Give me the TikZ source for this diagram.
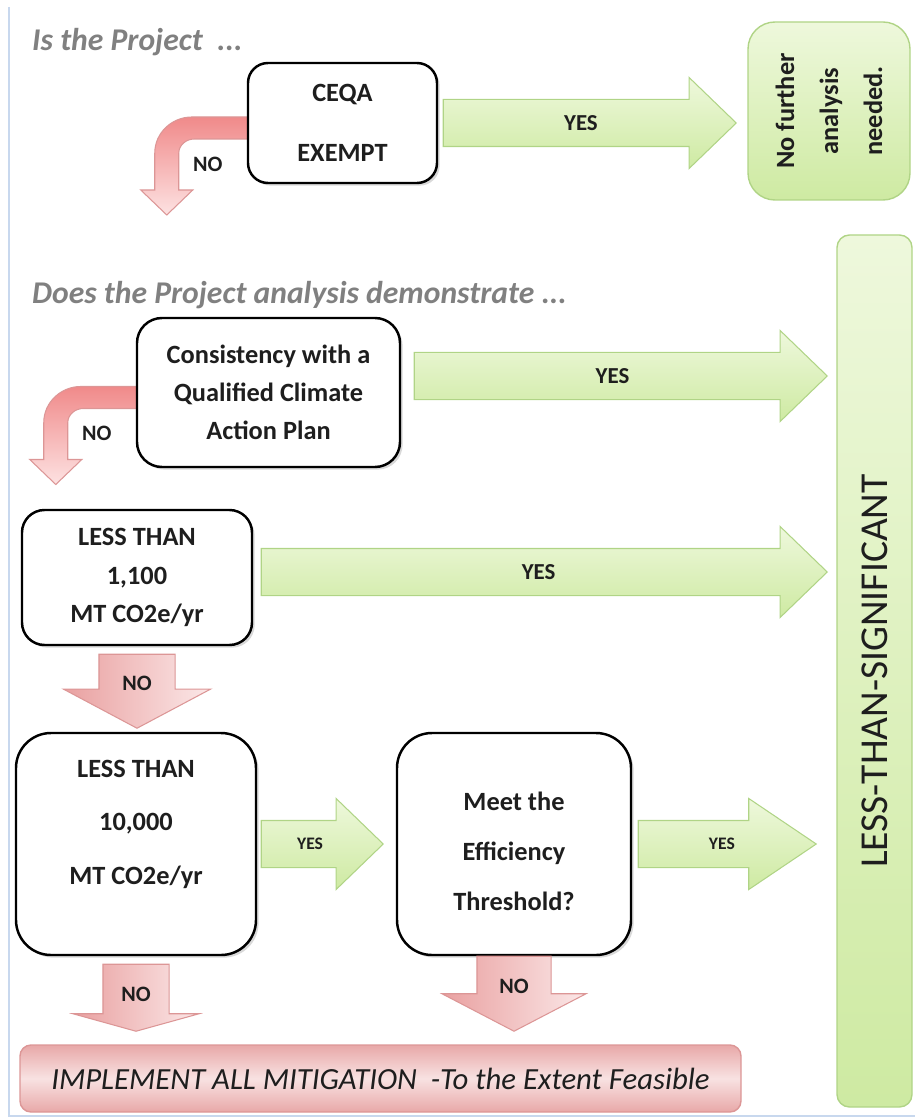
\documentclass[tikz,border=0pt]{standalone}
\usepackage{fontspec}
\setmainfont{Carlito}
\usetikzlibrary{shapes.arrows,shadows,backgrounds,calc}

\definecolor{headgray}{RGB}{128,128,128}
\definecolor{boxtext}{RGB}{30,30,30}
\definecolor{greenlight}{RGB}{238,248,220}
\definecolor{greendark}{RGB}{206,234,162}
\definecolor{greenline}{RGB}{176,212,134}
\definecolor{redtop}{RGB}{233,160,160}
\definecolor{redbot}{RGB}{251,232,232}
\definecolor{redline}{RGB}{220,150,150}
\definecolor{turntop}{RGB}{240,138,138}
\definecolor{turnbot}{RGB}{253,226,226}
\definecolor{implmid}{RGB}{248,226,226}
\definecolor{impledge}{RGB}{232,168,168}
\definecolor{framecol}{RGB}{200,216,238}

\begin{document}
\begin{tikzpicture}[
  box/.style={draw=black, line width=1.4pt, fill=white, rounded corners=#1,
    align=center, text=boxtext, font=\fontsize{15}{18}\selectfont\bfseries,
    drop shadow={shadow xshift=1.5pt, shadow yshift=-1.5pt, opacity=0.3}},
  box/.default=0.45cm,
  gbox/.style={draw=greenline, line width=0.8pt, rounded corners=#1,
    top color=greenlight, bottom color=greendark, rotate=90, text=boxtext},
  head/.style={anchor=west, text=headgray,
    font=\fontsize{18}{21}\selectfont\bfseries\itshape},
  yesarr/.style={single arrow, draw=greenline, line width=0.6pt,
    top color=greenlight, bottom color=greendark, inner xsep=0pt,
    inner ysep=0.46cm, outer sep=0pt, single arrow head extend=0.44cm,
    single arrow tip angle=88, anchor=tail},
  noarr/.style={single arrow, draw=redline, line width=0.6pt,
    left color=redtop, right color=redbot, inner xsep=0pt, outer sep=0pt,
    rotate=-90, anchor=tail},
  turnarr/.style={draw=redline, line width=0.6pt, top color=turntop,
    bottom color=turnbot},
  yeslab/.style={text=boxtext, font=\fontsize{13}{15}\selectfont\bfseries},
  nolab/.style={text=boxtext, font=\fontsize{12.5}{15}\selectfont\bfseries}]
\useasboundingbox (0,0) rectangle (18.3,-22.38);
\draw[framecol, line width=1pt] (0.18,-0.14) -- (0.18,-22.32) -- (18.3,-22.32);

% questions
\node[head] (q1) at (0.52,-0.84) {Is the Project \ ...};
\node[head] (q2) at (0.52,-5.9) {Does the Project analysis demonstrate ...};

% decision boxes
\node[box=0.4cm, minimum width=3.78cm, minimum height=2.4cm] (ceqa)
  at (6.85,-2.46) {CEQA\\[16pt]EXEMPT};
\node[box=0.5cm, minimum width=5.26cm, minimum height=2.98cm] (cap)
  at (5.37,-7.85) {Consistency with a\\[3.5pt]Qualified Climate\\[3.5pt]Action Plan};
\node[box, minimum width=4.6cm, minimum height=2.7cm] (less1)
  at (2.74,-11.55) {LESS THAN\\[4pt]1,100\\[4pt]MT CO2e/yr};
\node[box=0.7cm, minimum width=4.8cm, minimum height=4.44cm] (less2)
  at (2.72,-16.88) {LESS THAN\\[12.5pt]10,000\\[12.5pt]MT CO2e/yr\\[7pt]\mbox{}};
\node[box=0.7cm, minimum width=4.68cm, minimum height=4.44cm] (meet)
  at (10.28,-16.88) {\mbox{}\\[1pt]Meet the\\[10.5pt]Efficiency\\[10.5pt]Threshold?};

% outcomes
\node[gbox=0.54cm, minimum width=3.56cm, minimum height=3.24cm, align=center,
  font=\fontsize{15}{25}\selectfont\bfseries] (nofa)
  at (16.58,-2.22) {No further\\analysis\\needed.};
\node[gbox=0.25cm, minimum width=17.44cm, minimum height=1.5cm,
  font=\fontsize{22.5}{27}\selectfont] (lts) at (17.49,-13.42) {LESS-THAN-SIGNIFICANT};
\node[draw=redline, line width=0.8pt, rounded corners=0.22cm, top color=impledge,
  bottom color=impledge, middle color=implmid, minimum width=14.42cm,
  minimum height=1.34cm, text=boxtext, font=\fontsize{17.5}{20}\selectfont\itshape]
  (impl) at (7.61,-21.57) {IMPLEMENT ALL MITIGATION\ \ -To the Extent Feasible};

% yes arrows
\node[yesarr, minimum height=5.86cm] (y1) at ([xshift=0.1cm]ceqa.east) {};
\node[yesarr, minimum height=8.26cm] (y2) at ([shift={(0.26,0.33)}]cap.east) {};
\node[yesarr, minimum height=11.32cm] (y3) at ([shift={(0.16,0.11)}]less1.east) {};
\node[yesarr, minimum height=2.44cm] (y4) at ([xshift=0.08cm]less2.east) {};
\node[yesarr, minimum height=3.56cm, single arrow tip angle=68] (y5)
  at ([xshift=0.12cm]meet.east) {};
\foreach \a/\f in {y1/0.47,y2/0.48,y3/0.49}
  \node[yeslab] (l\a) at ($(\a.tail)!\f!(\a.tip)$) {YES};
\foreach \a/\f in {y4/0.4,y5/0.47}
  \node[yeslab, font=\fontsize{10}{12}\selectfont\bfseries] (l\a)
    at ($(\a.tail)!\f!(\a.tip)$) {YES};

% no arrows
\node[noarr, minimum height=1.48cm, inner ysep=0.75cm, single arrow head extend=0.71cm,
  single arrow tip angle=124] (n1) at ([yshift=-0.16cm]less1.south) {};
\node[noarr, minimum height=1.34cm, inner ysep=0.65cm, single arrow head extend=0.6cm,
  single arrow tip angle=149] (n2) at ([yshift=-0.16cm]less2.south) {};
\node[noarr, minimum height=1.5cm, inner ysep=0.73cm, single arrow head extend=0.7cm,
  single arrow tip angle=125] (n3) at (meet.south) {};
\foreach \a/\f in {n1/0.39,n2/0.45,n3/0.4}
  \node[nolab] (l\a) at ($(\a.tail)!\f!(\a.tip)$) {NO};

% bent no arrows
\begin{pgfonlayer}{background}
\foreach \b in {ceqa,cap}
  \draw[turnarr, shift={(\b.west)}] (0.1,0.12) -- (-1.1,0.12)
    .. controls (-1.5,0.12) and (-1.84,-0.2) .. (-1.84,-0.6) -- (-1.84,-1.34)
    -- (-2.12,-1.34) -- (-1.6,-1.84) -- (-1.08,-1.34) -- (-1.36,-1.34)
    -- (-1.36,-0.6) .. controls (-1.36,-0.45) and (-1.22,-0.32) .. (-1.05,-0.32)
    -- (0.1,-0.32) -- cycle;
\end{pgfonlayer}
\foreach \b in {ceqa,cap}
  \node[nolab] (no\b) at ([shift={(-0.78,-0.82)}]\b.west) {NO};
\end{tikzpicture}
\end{document}
